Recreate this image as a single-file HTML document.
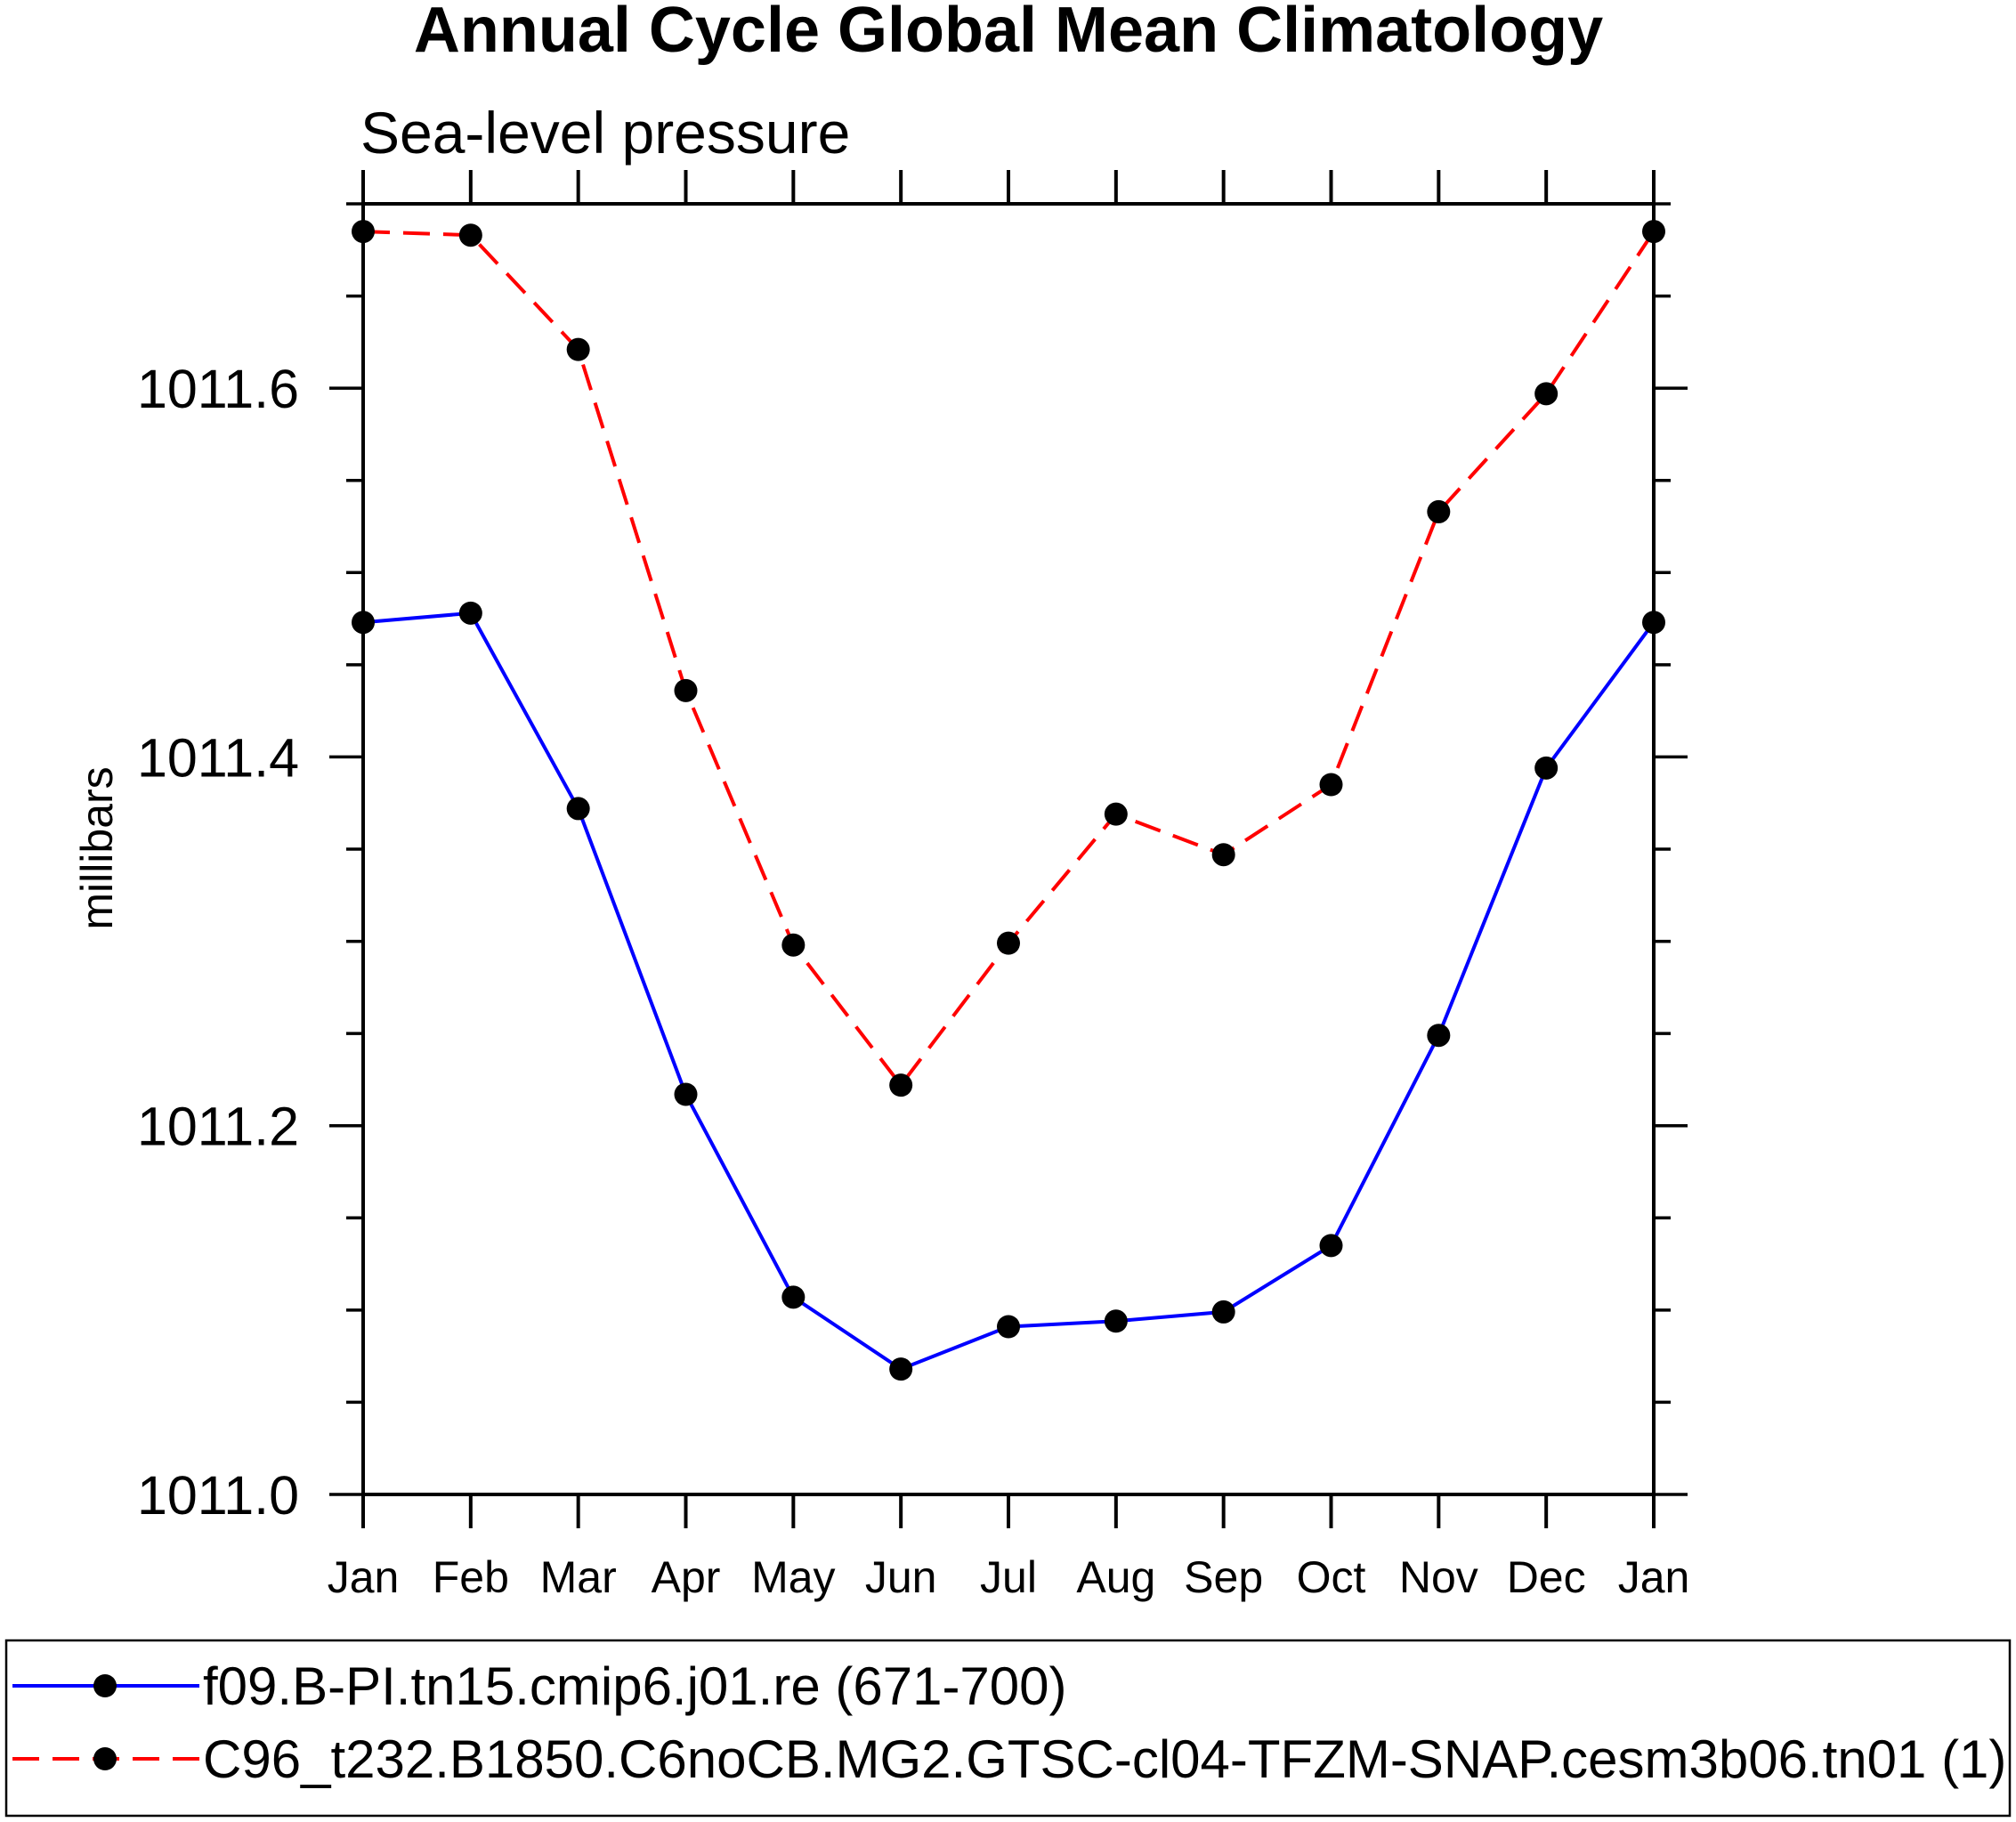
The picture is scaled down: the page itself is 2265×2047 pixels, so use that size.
<!DOCTYPE html>
<html><head><meta charset="utf-8"><style>
html,body{margin:0;padding:0;background:#fff;}
svg{display:block;font-family:"Liberation Sans",sans-serif;}
</style></head><body>
<svg id="chart" width="2265" height="2047" viewBox="0 0 2265 2047" xmlns="http://www.w3.org/2000/svg">
<text x="1133" y="58" font-size="72" font-weight="bold" text-anchor="middle">Annual Cycle Global Mean Climatology</text>
<text x="405" y="172" font-size="66">Sea-level pressure</text>
<text transform="translate(126,953) rotate(-90)" font-size="50" text-anchor="middle">millibars</text>
<g id="axes"></g>
<g id="series"></g>
<rect x="7" y="1843" width="2251" height="197" fill="none" stroke="#000" stroke-width="2.5"/>
<g>
<line x1="14" y1="1894" x2="224" y2="1894" stroke="#0000ff" stroke-width="4"/>
<circle cx="118" cy="1894" r="13" fill="#000"/>
<text x="228" y="1915" font-size="60">f09.B-PI.tn15.cmip6.j01.re (671-700)</text>
</g>
<g>
<line x1="14" y1="1976" x2="224" y2="1976" stroke="#ff0000" stroke-width="4" stroke-dasharray="30,15"/>
<circle cx="118" cy="1976" r="13" fill="#000"/>
<text x="228" y="1997" font-size="60">C96_t232.B1850.C6noCB.MG2.GTSC-cl04-TFZM-SNAP.cesm3b06.tn01 (1)</text>
</g>
</svg>
<script>
const months = ["Jan","Feb","Mar","Apr","May","Jun","Jul","Aug","Sep","Oct","Nov","Dec","Jan"];
const blueValues = [1011.473,1011.478,1011.372,1011.217,1011.107,1011.068,1011.091,1011.094,1011.099,1011.135,1011.249,1011.394,1011.473];
const redValues = [1011.685,1011.683,1011.621,1011.436,1011.298,1011.222,1011.299,1011.369,1011.347,1011.385,1011.533,1011.597,1011.685];
const yTickLabels = ["1011.0","1011.2","1011.4","1011.6"];
const yMin = 1011.0, yMax = 1011.7;
const L=408, R=1858, T=229, B=1679;
const NS="http://www.w3.org/2000/svg";
function xs(i){return L+(R-L)*i/(months.length-1);}
function ys(v){return B-(B-T)*(v-yMin)/(yMax-yMin);}
function mk(tag,attrs,parent){const e=document.createElementNS(NS,tag);for(const k in attrs)e.setAttribute(k,attrs[k]);parent.appendChild(e);return e;}
const ax=document.getElementById('axes');
const frame=mk('rect',{x:L,y:T,width:R-L,height:B-T,fill:'none',stroke:'#000','stroke-width':4},ax);


months.forEach((m,i)=>{
  const x=xs(i);
  mk('line',{x1:x,y1:B,x2:x,y2:B+38,stroke:'#000','stroke-width':4},ax);
  mk('line',{x1:x,y1:T,x2:x,y2:T-38,stroke:'#000','stroke-width':4},ax);
  const t=mk('text',{x:x,y:1789,'font-size':50,'text-anchor':'middle'},ax);
  t.textContent=m;
  
  
});
for(let k=0;k<=14;k++){
  const v=yMin+k*0.05, y=ys(v), major=(k%4===0);
  const len=major?38:19;
  mk('line',{x1:L-len,y1:y,x2:L,y2:y,stroke:'#000','stroke-width':3.5},ax);
  mk('line',{x1:R,y1:y,x2:R+len,y2:y,stroke:'#000','stroke-width':3.5},ax);
}
yTickLabels.forEach(s=>{
  const t=mk('text',{x:336,y:ys(parseFloat(s))+22,'font-size':61,'text-anchor':'end'},ax);
  t.textContent=s;
  
  
});
const sg=document.getElementById('series');
function drawSeries(vals,color,dash,name){
  const g=mk('g',{},sg);
  
  
  const pts=vals.map((v,i)=>xs(i)+','+ys(v)).join(' ');
  const a={points:pts,fill:'none',stroke:color,'stroke-width':4};
  if(dash)a['stroke-dasharray']=dash;
  mk('polyline',a,g);
  vals.forEach((v,i)=>{
    const c=mk('circle',{cx:xs(i),cy:ys(v),r:13,fill:'#000'},g);
    
    
  });
}
drawSeries(blueValues,'#0000ff',null,'series-f09');
drawSeries(redValues,'#ff0000','30,15','series-c96');
</script>
</body></html>
